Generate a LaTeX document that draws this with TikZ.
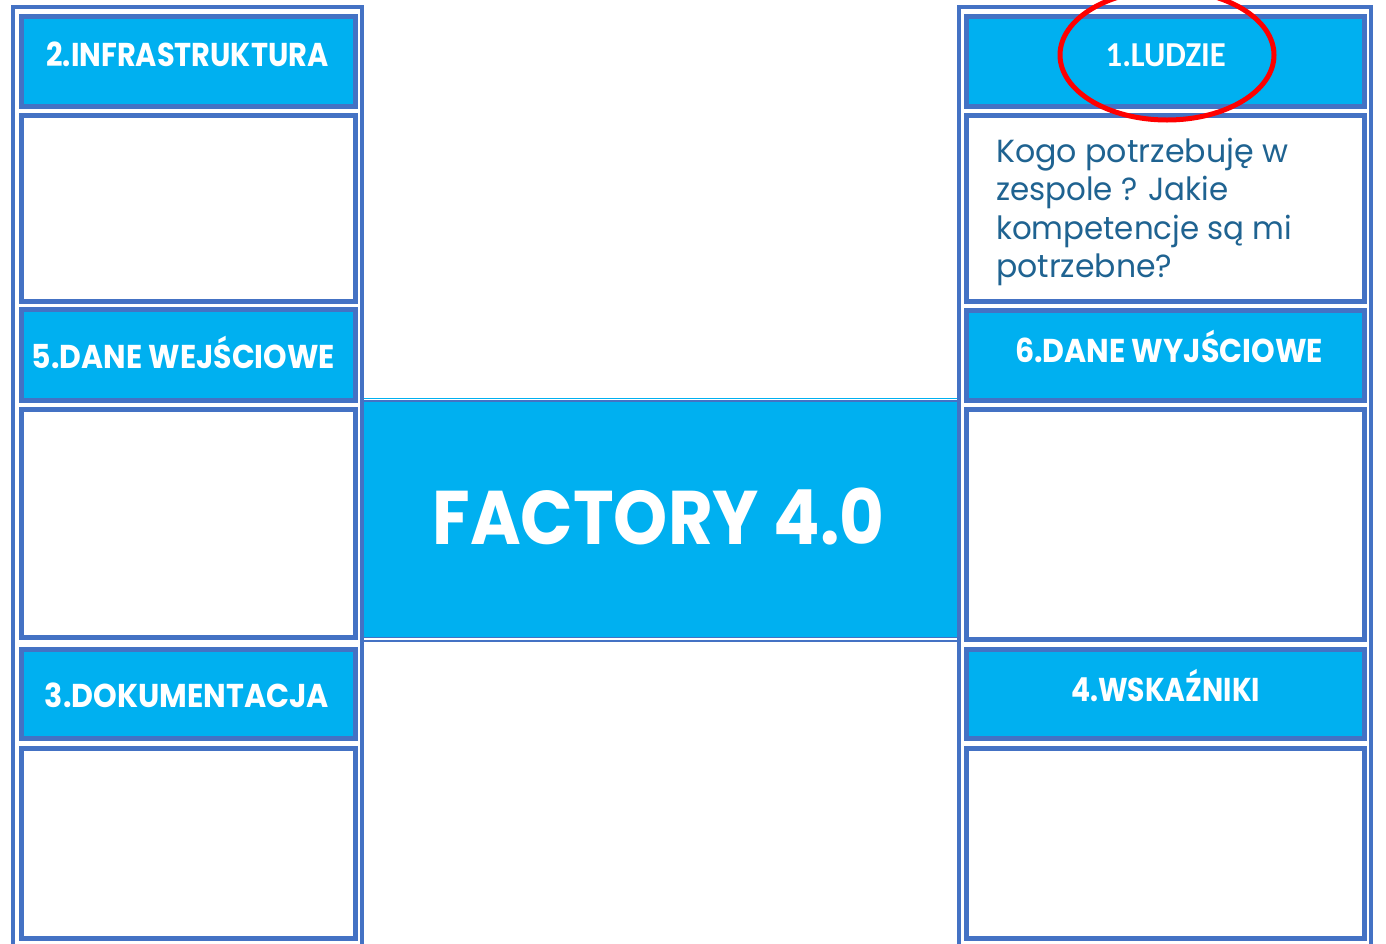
\documentclass[tikz,border=0pt]{standalone}
\usepackage{fontspec}
\usepackage{graphicx}
\newfontfamily\hfont{Poppins}
\newfontfamily\lfont{Carlito}
\definecolor{bordblue}{HTML}{4472C4}
\definecolor{cyanfill}{HTML}{00B0F0}
\definecolor{bodytext}{HTML}{1F6391}
\newcommand{\fitw}[2]{\resizebox{#1}{\height}{#2}}
\tikzset{
  outerline/.style={draw=bordblue, line width=4pt},
  headbox/.style={draw=bordblue, fill=cyanfill, line width=5pt},
  emptybox/.style={draw=bordblue, fill=white, line width=5pt},
  headtext/.style={text=white, anchor=base, inner sep=0pt, font=\hfont\bfseries\fontsize{33}{36}\selectfont},
  bodyline/.style={text=bodytext, anchor=base west, inner sep=0pt, font=\hfont\fontsize{32}{38}\selectfont},
}
\begin{document}
\begin{tikzpicture}[x=1pt,y=-1pt]
\useasboundingbox (0,0) rectangle (1386,943);
\clip (0,0) rectangle (1386,943);
% outer column frames (open at bottom)
\draw[outerline] (13,950) -- (13,7) -- (362,7) -- (362,950);
\draw[outerline] (959,950) -- (959,7) -- (1371,7) -- (1371,950);
% left column
\path[headbox]  (21,16.5) rectangle (355,106.5);
\path[emptybox] (21,115.5) rectangle (355,301.5);
\path[headbox]  (21,309.5) rectangle (355,400.5);
\path[emptybox] (21,409.5) rectangle (355,637.5);
\path[headbox]  (21,649.5) rectangle (355,738.5);
\path[emptybox] (21,748.5) rectangle (355,938.5);
% right column
\path[headbox]  (966,16.5) rectangle (1364,106.5);
\path[emptybox] (966,115.5) rectangle (1364,301.5);
\path[headbox]  (966,310.5) rectangle (1364,400.5);
\path[emptybox] (966,409.5) rectangle (1364,639.5);
\path[headbox]  (966,649.5) rectangle (1364,738.5);
\path[emptybox] (966,748.5) rectangle (1364,938.5);
% center box
\fill[cyanfill] (364,398) rectangle (957,637.5);
\draw[white, line width=0.8pt] (364,399.6) -- (957,399.6);
\draw[bordblue, line width=2pt] (364,401.2) -- (957,401.2);
\draw[bordblue, line width=1.6pt] (364,637.6) -- (957,637.6);
\draw[bordblue, line width=1.6pt] (364,640.9) -- (957,640.9);
\node[text=white, anchor=base, inner sep=0pt, font=\hfont\bfseries\fontsize{76}{80}\selectfont] (factory) at (658.5,544) {\fitw{452pt}{FACTORY 4.0}};
% header texts
\node[headtext] (h2) at (187.5,66) {\fitw{282pt}{2.INFRASTRUKTURA}};
\node[headtext] (h5) at (183.5,368) {\fitw{303pt}{5.DANE WEJŚCIOWE}};
\node[headtext] (h3) at (187,707) {\fitw{284pt}{3.DOKUMENTACJA}};
\node[headtext, font=\lfont\bfseries\fontsize{35}{38}\selectfont] (h1) at (1165.7,66) {\fitw{120pt}{1.LUDZIE}};
\node[headtext] (h6) at (1169,362) {\fitw{308pt}{6.DANE WYJŚCIOWE}};
\node[headtext] (h4) at (1165.5,701.5) {\fitw{189pt}{4.WSKAŹNIKI}};
% body text
\node[bodyline] (t1) at (996,162) {\fitw{292pt}{Kogo potrzebuję w}};
\node[bodyline] (t2) at (996,200) {\fitw{232pt}{zespole ? Jakie}};
\node[bodyline] (t3) at (996,239) {\fitw{296pt}{kompetencje są mi}};
\node[bodyline] (t4) at (996,277) {\fitw{176pt}{potrzebne?}};
% red ellipse
\draw[red, line width=5pt] (1167,55) ellipse [x radius=107, y radius=65];
\end{tikzpicture}
\end{document}
